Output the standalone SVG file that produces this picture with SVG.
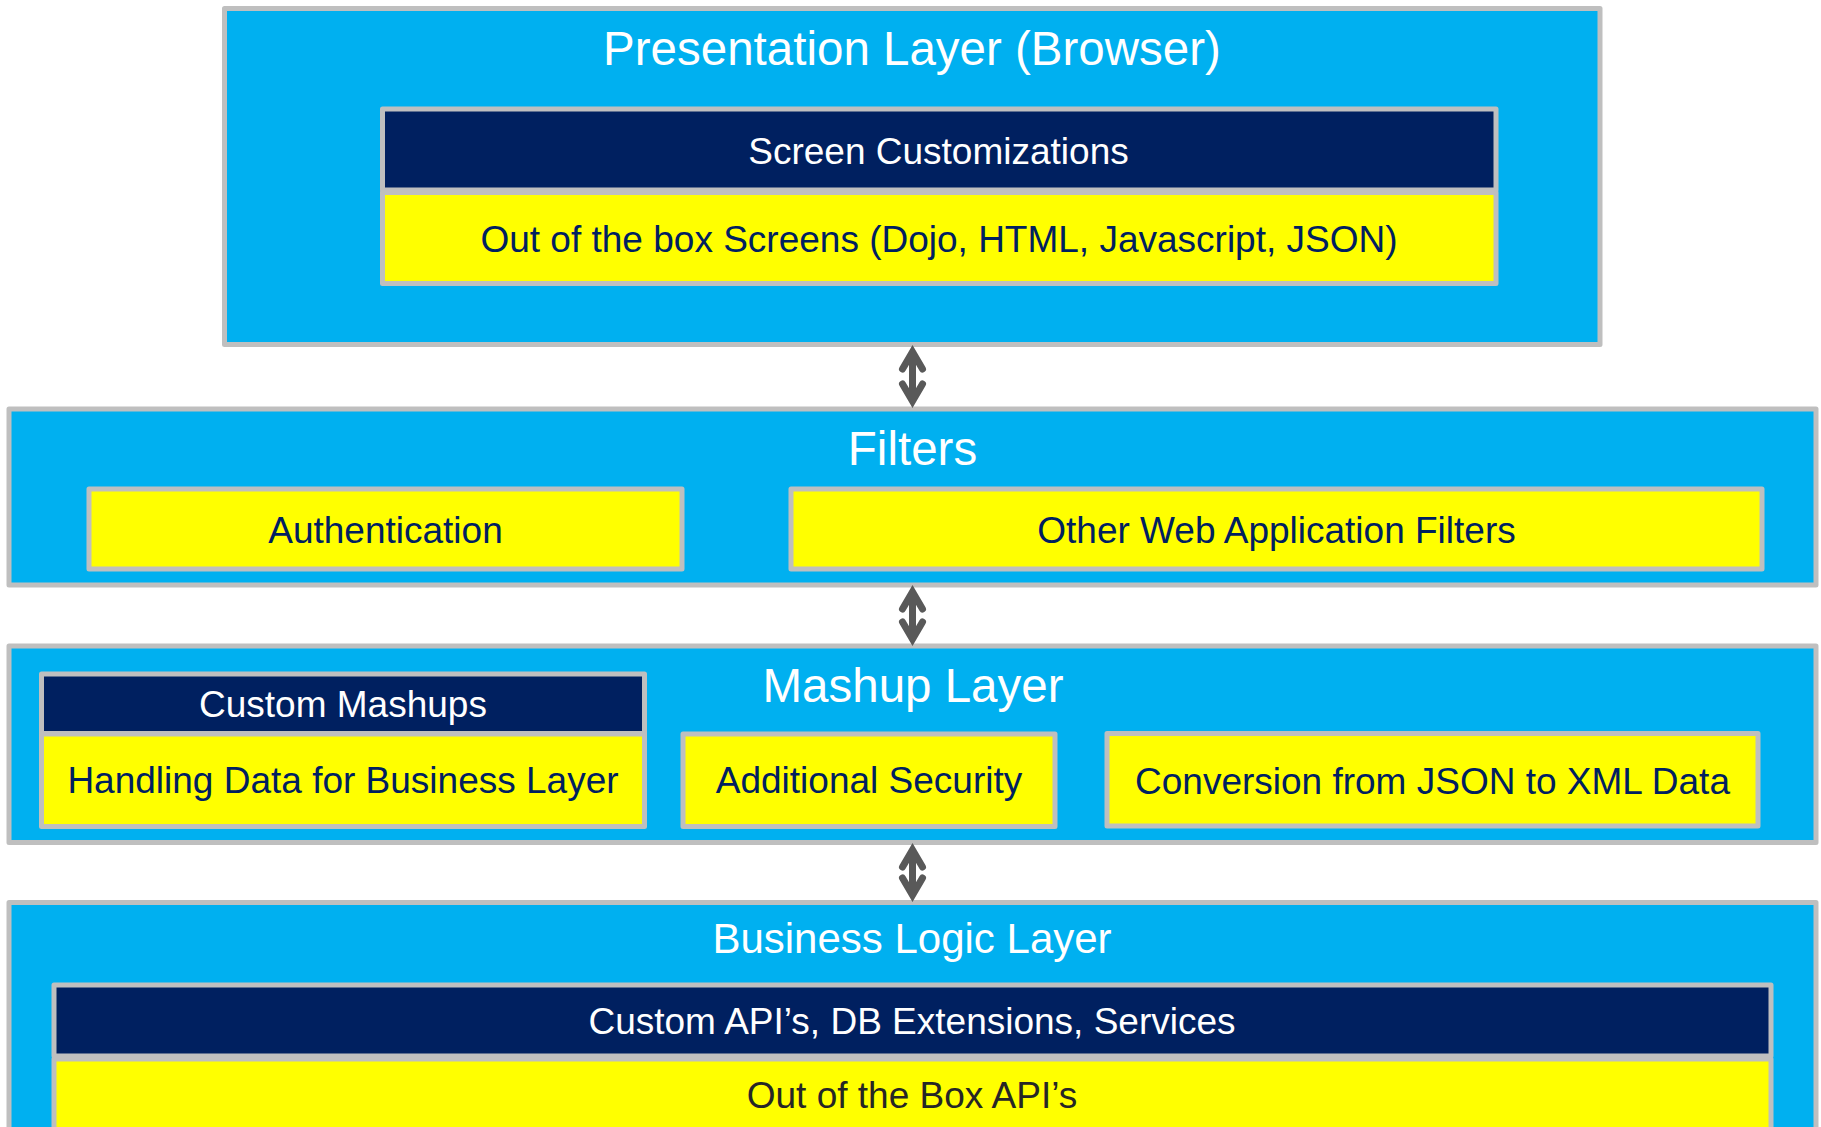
<svg xmlns="http://www.w3.org/2000/svg" width="1821" height="1127" viewBox="0 0 1821 1127">
  <style>
    text { font-family: "Liberation Sans", Arial, sans-serif; text-anchor: middle; }
    .layer { fill: #00B0F0; stroke: #BFBFBF; stroke-width: 5; stroke-linejoin: round; }
    .navy { fill: #002060; stroke: #BFBFBF; stroke-width: 5; stroke-linejoin: round; }
    .yellow { fill: #FFFF00; stroke: #BFBFBF; stroke-width: 5; stroke-linejoin: round; }
    .title { fill: #FFFFFF; font-size: 47.5px; }
    .wt { fill: #FFFFFF; font-size: 37px; }
    .nt { fill: #002060; font-size: 37px; }
    .dt { fill: #262626; font-size: 37px; }
    .arrow { fill: none; stroke: #595959; stroke-width: 7; stroke-linecap: round; stroke-linejoin: miter; }
  </style>

  <g id="presentation-layer">
    <rect class="layer" x="224.5" y="8.5" width="1375.5" height="336"/>
    <text class="title" x="912" y="65">Presentation Layer (Browser)</text>
  </g>
  <g id="screen-customizations">
    <rect class="navy" x="382.5" y="109" width="1113.5" height="81"/>
    <text class="wt" x="938.5" y="164">Screen Customizations</text>
  </g>
  <g id="out-of-box-screens">
    <rect class="yellow" x="382.5" y="192.5" width="1113.5" height="91"/>
    <text class="nt" x="939" y="251.5">Out of the box Screens (Dojo, HTML, Javascript, JSON)</text>
  </g>

  <g id="filters">
    <rect class="layer" x="9" y="409" width="1807" height="176"/>
    <text class="title" x="912.5" y="465">Filters</text>
  </g>
  <g id="authentication">
    <rect class="yellow" x="89" y="489" width="593" height="80"/>
    <text class="nt" x="385.5" y="543">Authentication</text>
  </g>
  <g id="other-web-filters">
    <rect class="yellow" x="791" y="489" width="971" height="80"/>
    <text class="nt" x="1276.5" y="543">Other Web Application Filters</text>
  </g>

  <g id="mashup-layer">
    <rect class="layer" x="9" y="646" width="1807" height="196.5"/>
    <text class="title" x="913" y="701.5">Mashup Layer</text>
  </g>
  <g id="custom-mashups">
    <rect class="navy" x="41.5" y="674" width="603" height="59.5"/>
    <text class="wt" x="343" y="717">Custom Mashups</text>
  </g>
  <g id="handling-data">
    <rect class="yellow" x="41.5" y="734" width="603" height="92.5"/>
    <text class="nt" x="343" y="793">Handling Data for Business Layer</text>
  </g>
  <g id="additional-security">
    <rect class="yellow" x="683" y="734" width="372" height="92.5"/>
    <text class="nt" x="869" y="793">Additional Security</text>
  </g>
  <g id="json-to-xml">
    <rect class="yellow" x="1107" y="733.5" width="651" height="92.5"/>
    <text class="nt" x="1432.5" y="794">Conversion from JSON to XML Data</text>
  </g>

  <g id="business-logic-layer">
    <rect class="layer" x="9" y="902.5" width="1807" height="300"/>
    <text class="title" x="912" y="953" style="font-size:42px">Business Logic Layer</text>
  </g>
  <g id="custom-apis">
    <rect class="navy" x="54" y="985" width="1717" height="71"/>
    <text class="wt" x="912" y="1034">Custom API’s, DB Extensions, Services</text>
  </g>
  <g id="out-of-box-apis">
    <rect class="yellow" x="54" y="1059" width="1717" height="200"/>
    <text class="dt" x="912" y="1108">Out of the Box API’s</text>
  </g>

  <g id="connectors">
    <path class="arrow" d="M912.5,355 L912.5,398 M902.5,369 L912.5,352 L922.5,369 M902.5,384 L912.5,401 L922.5,384"/>
    <path class="arrow" d="M912.5,595 L912.5,636 M902.5,609 L912.5,592 L922.5,609 M902.5,622 L912.5,639 L922.5,622"/>
    <path class="arrow" d="M912.5,853 L912.5,892 M902.5,867 L912.5,850 L922.5,867 M902.5,878 L912.5,895 L922.5,878"/>
  </g>
</svg>
